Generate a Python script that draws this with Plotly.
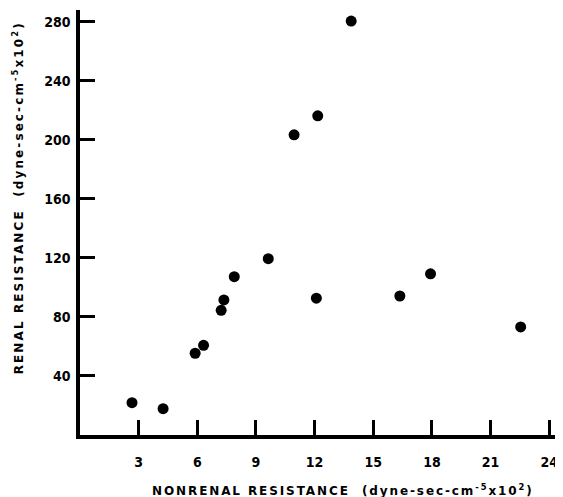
import plotly.graph_objects as go

nonrenal = [2.66, 4.25, 5.89, 6.32, 7.22, 7.36, 7.89, 9.63, 10.95, 12.16, 12.09, 13.87, 16.36, 17.93, 22.54]
renal = [21.9, 17.8, 55.4, 60.8, 84.5, 91.5, 107.3, 119.5, 203.4, 216.3, 92.7, 280.5, 94.2, 109.2, 73.2]

x_ticks = [3, 6, 9, 12, 15, 18, 21, 24]
y_ticks = [40, 80, 120, 160, 200, 240, 280]

x_title = "NONRENAL RESISTANCE  (dyne-sec-cm<sup>-5</sup>x10<sup>2</sup>)"
y_title = "RENAL RESISTANCE  (dyne-sec-cm<sup>-5</sup>x10<sup>2</sup>)"

fig = go.Figure(go.Scatter(
    x=nonrenal, y=renal, mode="markers",
    marker=dict(size=11, color="black"),
    showlegend=False,
))

tick_font = dict(family="DejaVu Sans Condensed", size=14, color="black", weight="bold")
title_font = dict(family="DejaVu Sans", size=12, color="black", weight="bold")

fig.update_layout(
    width=555, height=489,
    margin=dict(l=72, r=4, t=2, b=62),
    paper_bgcolor="white", plot_bgcolor="white",
    xaxis=dict(
        range=[0, 24.5], tickvals=x_ticks, ticktext=[str(v) for v in x_ticks],
        ticks="inside", ticklen=15, tickwidth=2.5, tickcolor="black",
        showline=True, linewidth=3.5, linecolor="black",
        showgrid=False, zeroline=False,
        tickfont=tick_font, ticklabelstandoff=11,
    ),
    yaxis=dict(
        range=[0, 288], tickvals=y_ticks, ticktext=[str(v) for v in y_ticks],
        ticks="inside", ticklen=15, tickwidth=2.5, tickcolor="black",
        showline=True, linewidth=3.5, linecolor="black",
        showgrid=False, zeroline=False,
        tickfont=tick_font, ticklabelstandoff=3,
    ),
    annotations=[
        dict(text='<span style="letter-spacing:1.9px">' + x_title + '</span>',
             xref="paper", yref="paper", x=0.549, y=-0.129,
             xanchor="center", yanchor="middle", showarrow=False, font=title_font),
        dict(text='<span style="letter-spacing:2.1px">' + y_title + '</span>',
             xref="paper", yref="paper", x=-0.1294, y=0.557, textangle=-90,
             xanchor="center", yanchor="middle", showarrow=False, font=title_font),
    ],
)

fig.write_html("out.html")
